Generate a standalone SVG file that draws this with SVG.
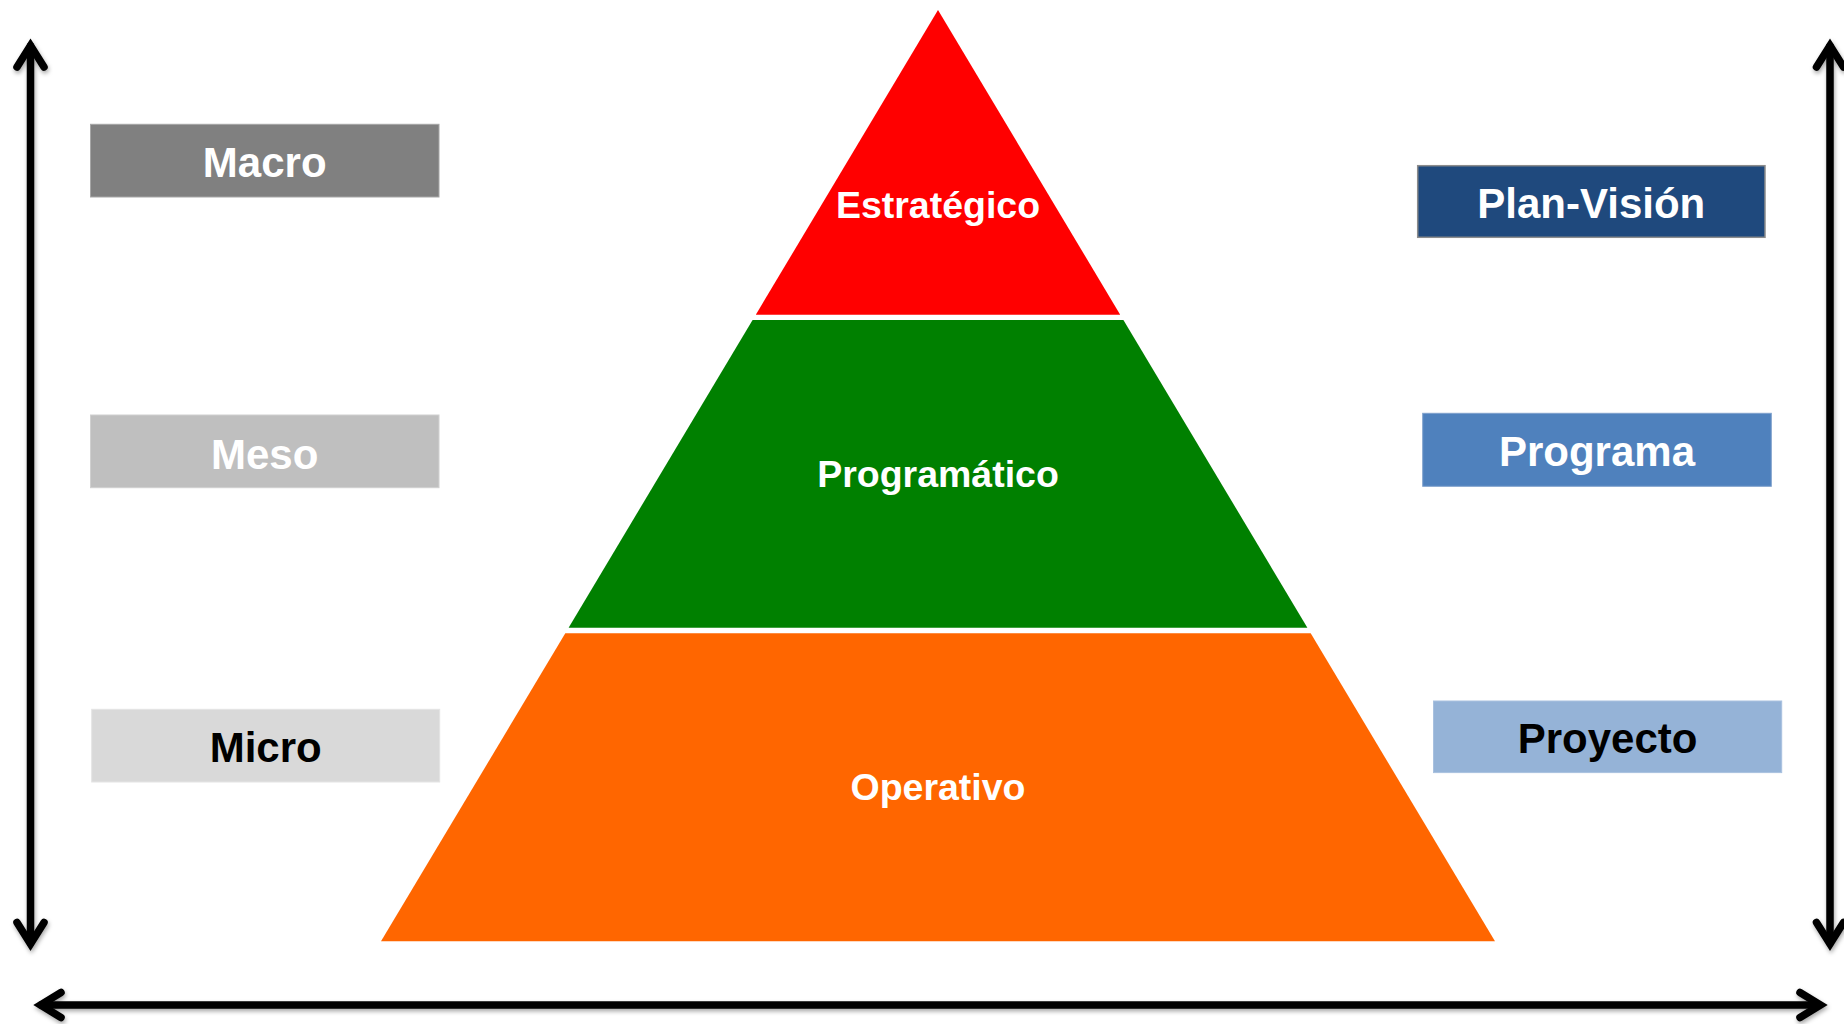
<svg xmlns="http://www.w3.org/2000/svg" width="1844" height="1024" viewBox="0 0 1844 1024">
<defs>
<filter id="sh" x="-20%" y="-20%" width="140%" height="140%">
<feDropShadow dx="1" dy="2.5" stdDeviation="2" flood-color="#000" flood-opacity="0.35"/>
</filter>
<style>
.lbl{font-family:"Liberation Sans",Arial,sans-serif;font-weight:bold;text-anchor:middle}
.pl{font-size:37.5px;fill:#fff}
.bx{font-size:42px}
.ar{fill:none;stroke:#000;stroke-width:7.5;stroke-linecap:round;stroke-linejoin:miter;stroke-miterlimit:10}
</style>
</defs>
<rect width="1844" height="1024" fill="#fff"/>
<g id="pyramid">
<g id="tier-estrategico">
<polygon points="938,10 755.8,314.7 1120.2,314.7" fill="#ff0000"/>
<text class="lbl pl" x="938" y="218">Estratégico</text>
</g>
<g id="tier-programatico">
<polygon points="752.6,320 1123.4,320 1307.4,627.7 568.6,627.7" fill="#008000"/>
<text class="lbl pl" x="938" y="487">Programático</text>
</g>
<g id="tier-operativo">
<polygon points="565.3,633.3 1310.7,633.3 1495,941.3 381,941.3" fill="#ff6600"/>
<text class="lbl pl" x="938" y="800">Operativo</text>
</g>
</g>
<g id="macro">
<rect x="90.5" y="124.3" width="348.5" height="72.7" fill="#808080" stroke="#a6a6a6" stroke-width="1"/>
<text class="lbl bx" x="264.7" y="176.7" fill="#fff">Macro</text>
</g>
<g id="meso">
<rect x="90.5" y="415" width="348.5" height="72.7" fill="#bfbfbf" stroke="#d0d0d0" stroke-width="1"/>
<text class="lbl bx" x="264.7" y="469" fill="#fff">Meso</text>
</g>
<g id="micro">
<rect x="91.7" y="709.3" width="348" height="72.7" fill="#d9d9d9" stroke="#e4e4e4" stroke-width="1"/>
<text class="lbl bx" x="265.7" y="762" fill="#000">Micro</text>
</g>
<g id="plan-vision">
<rect x="1417.7" y="165.7" width="347.3" height="71.6" fill="#1f497d" stroke="#8c8c8c" stroke-width="1.5"/>
<text class="lbl bx" x="1591.3" y="218.3" fill="#fff">Plan-Visión</text>
</g>
<g id="programa">
<rect x="1422.7" y="413.3" width="348.6" height="73" fill="#4f81bd" stroke="#7fa1cc" stroke-width="1"/>
<text class="lbl bx" x="1597" y="466" fill="#fff">Programa</text>
</g>
<g id="proyecto">
<rect x="1433.5" y="701" width="348.2" height="71.6" fill="#95b3d7" stroke="#a9c1df" stroke-width="1"/>
<text class="lbl bx" x="1607.6" y="752.6" fill="#000">Proyecto</text>
</g>
<g id="connectors" filter="url(#sh)">
<line class="ar" x1="30.5" y1="46" x2="30.5" y2="943"/>
<polyline class="ar" points="17,67 30.5,45.5 44,67"/>
<polyline class="ar" points="17,922.5 30.5,944 44,922.5"/>
<line class="ar" x1="1830" y1="46" x2="1830" y2="943"/>
<polyline class="ar" points="1816.5,67 1830,45.5 1843.5,67"/>
<polyline class="ar" points="1816.5,922.5 1830,944 1843.5,922.5"/>
<line class="ar" x1="41" y1="1005" x2="1819" y2="1005"/>
<polyline class="ar" points="61,992.5 40.5,1005 61,1017.5"/>
<polyline class="ar" points="1800,992.5 1820.5,1005 1800,1017.5"/>
</g>
</svg>
